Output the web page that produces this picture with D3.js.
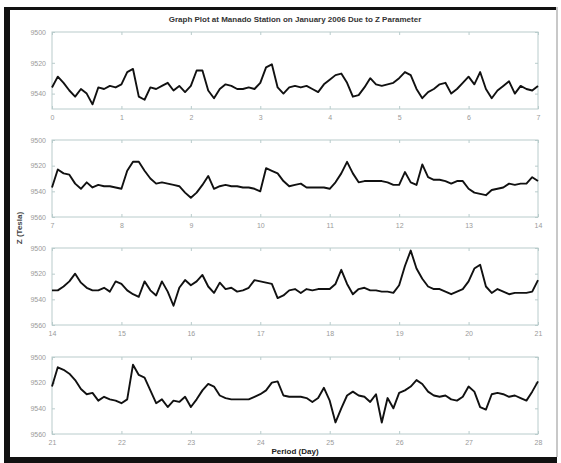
<!DOCTYPE html>
<html>
<head>
<meta charset="utf-8">
<script src="https://cdn.jsdelivr.net/npm/d3@7"></script>
<style>
  body { margin: 0; background: #fff; }
  text { font-family: "Liberation Sans", Arial, sans-serif; }
</style>
</head>
<body>
<svg id="chart" width="561" height="463"></svg>
<script>
// Z component (nT), one sample every 2 hours, one row per week
const titleText = "Graph Plot at Manado Station on January 2006 Due to Z Parameter";
const weekStarts = [0, 7, 14, 21];
const sampleStep = 1 / 12;
const yDomains = [[9500, 9550], [9500, 9560], [9500, 9560], [9500, 9560]];
const yTicks = [[9500, 9520, 9540], [9500, 9520, 9540, 9560], [9500, 9520, 9540, 9560], [9500, 9520, 9540, 9560]];

const week1 = [
  9536, 9529, 9533, 9538, 9542, 9537, 9540, 9547, 9536, 9537, 9535, 9536,
  9534, 9526, 9524, 9542, 9544, 9536, 9537, 9535, 9533, 9538, 9535, 9539,
  9535, 9525, 9525, 9538, 9543, 9537, 9534, 9535, 9537, 9537, 9536, 9537,
  9533, 9523, 9521, 9536, 9540, 9536, 9535, 9536, 9535, 9537, 9539, 9534,
  9531, 9528, 9527, 9533, 9542, 9541, 9536, 9530, 9534, 9535, 9534, 9533,
  9530, 9526, 9528, 9537, 9543, 9539, 9537, 9534, 9533, 9540, 9537, 9533,
  9529, 9534, 9526, 9537, 9543, 9538, 9535, 9532, 9540, 9535, 9537, 9538, 9535
];
const week2 = [
  9537, 9523, 9526, 9527, 9534, 9538, 9533, 9537, 9535, 9536, 9536, 9537,
  9538, 9524, 9517, 9517, 9524, 9530, 9534, 9533, 9534, 9535, 9536, 9541,
  9545, 9541, 9535, 9528, 9538, 9536, 9535, 9536, 9536, 9537, 9537, 9538,
  9540, 9522, 9524, 9526, 9532, 9536, 9535, 9534, 9537, 9537, 9537, 9537,
  9538, 9533, 9526, 9517, 9526, 9533, 9532, 9532, 9532, 9532, 9533, 9535,
  9535, 9525, 9533, 9535, 9519, 9529, 9531, 9531, 9532, 9534, 9532, 9532,
  9538, 9541, 9542, 9543, 9539, 9538, 9537, 9534, 9535, 9534, 9534, 9529, 9532
];
const week3 = [
  9533, 9533, 9530, 9526, 9520, 9527, 9531, 9533, 9533, 9531, 9534, 9526,
  9528, 9533, 9536, 9538, 9526, 9533, 9537, 9526, 9534, 9545, 9531, 9525,
  9529, 9526, 9521, 9530, 9535, 9527, 9532, 9531, 9534, 9533, 9531, 9525,
  9526, 9527, 9528, 9539, 9537, 9533, 9532, 9535, 9532, 9533, 9532, 9532,
  9532, 9528, 9517, 9528, 9536, 9532, 9531, 9533, 9533, 9534, 9534, 9535,
  9529, 9514, 9502, 9516, 9524, 9530, 9532, 9532, 9534, 9536, 9534, 9532,
  9526, 9516, 9513, 9530, 9535, 9532, 9534, 9536, 9535, 9535, 9535, 9534, 9525
];
const week4 = [
  9523, 9508, 9510, 9513, 9518, 9525, 9529, 9528, 9534, 9531, 9533, 9534,
  9536, 9533, 9506, 9514, 9516, 9526, 9536, 9533, 9539, 9534, 9535, 9531,
  9539, 9533, 9526, 9521, 9523, 9530, 9532, 9533, 9533, 9533, 9533, 9531,
  9529, 9526, 9520, 9519, 9530, 9531, 9531, 9531, 9532, 9535, 9532, 9524,
  9534, 9551, 9540, 9530, 9527, 9530, 9531, 9535, 9529, 9551, 9532, 9540,
  9528, 9526, 9523, 9518, 9521, 9527, 9530, 9531, 9530, 9533, 9534, 9531,
  9523, 9527, 9539, 9541, 9529, 9528, 9529, 9531, 9530, 9532, 9534, 9527, 9519
];
const weeks = [week1, week2, week3, week4];

const svg = d3.select("#chart");
const width = +svg.attr("width");
const height = +svg.attr("height");

const plotLeft = 52, plotRight = 538;
const panelTops = [32, 140, 248, 357];
const panelHeight = 77;
const axisColor = "#b9cccc";
const labelColor = "#9a9a9a";

svg.append("rect").attr("width", width).attr("height", height).attr("fill", "#fff");

// scanned page frame
svg.append("rect").attr("x", 4).attr("y", 7).attr("width", 6).attr("height", 452).attr("fill", "#111");
svg.append("rect").attr("x", 4).attr("y", 7).attr("width", 553).attr("height", 3).attr("fill", "#111");
svg.append("rect").attr("x", 4).attr("y", 457).attr("width", 553).attr("height", 6).attr("fill", "#111");
svg.append("rect").attr("x", 556).attr("y", 7).attr("width", 2).attr("height", 450).attr("fill", "#c8c8c8");

svg.append("text")
    .attr("x", 295).attr("y", 22)
    .attr("text-anchor", "middle")
    .attr("font-size", 8).attr("font-weight", "bold")
    .attr("fill", "#333")
    .text(titleText);

weeks.forEach((values, i) => {
    const start = weekStarts[i];
    const top = panelTops[i];
    const g = svg.append("g").attr("transform", `translate(0,${top})`);

    const x = d3.scaleLinear().domain([start, start + 7]).range([plotLeft, plotRight]);
    const y = d3.scaleLinear().domain(yDomains[i]).range([0, panelHeight]);

    g.append("rect")
        .attr("x", plotLeft).attr("y", 0)
        .attr("width", plotRight - plotLeft).attr("height", panelHeight)
        .attr("fill", "none").attr("stroke", axisColor).attr("stroke-width", 1);

    const xBottom = g.append("g")
        .attr("transform", `translate(0,${panelHeight})`)
        .call(d3.axisBottom(x).ticks(7).tickSize(-3).tickPadding(6).tickFormat(d3.format("d")));
    const xTop = g.append("g")
        .call(d3.axisTop(x).ticks(7).tickSize(-3).tickFormat(""));
    const yLeft = g.append("g")
        .attr("transform", `translate(${plotLeft},0)`)
        .call(d3.axisLeft(y).tickValues(yTicks[i]).tickSize(-3).tickPadding(6).tickFormat(d3.format("d")));
    const yRight = g.append("g")
        .attr("transform", `translate(${plotRight},0)`)
        .call(d3.axisRight(y).tickValues(yTicks[i]).tickSize(-3).tickFormat(""));

    [xBottom, xTop, yLeft, yRight].forEach(a => {
        a.select(".domain").remove();
        a.selectAll("line").attr("stroke", axisColor);
        a.selectAll("text").attr("fill", labelColor).attr("font-size", 7)
            .style("font-family", "'Liberation Sans', Arial, sans-serif");
    });

    const line = d3.line()
        .x((d, j) => x(start + j * sampleStep))
        .y(d => y(d));

    g.append("path")
        .datum(values)
        .attr("fill", "none")
        .attr("stroke", "#111")
        .attr("stroke-width", 1.9)
        .attr("stroke-linejoin", "round")
        .attr("d", line);
});

svg.append("text")
    .attr("transform", "translate(22,228) rotate(-90)")
    .attr("text-anchor", "middle")
    .attr("font-size", 8).attr("font-weight", "bold")
    .attr("fill", "#444")
    .text("Z (Tesla)");

svg.append("text")
    .attr("x", 295).attr("y", 454)
    .attr("text-anchor", "middle")
    .attr("font-size", 8).attr("font-weight", "bold")
    .attr("fill", "#222")
    .text("Period (Day)");
</script>
</body>
</html>
